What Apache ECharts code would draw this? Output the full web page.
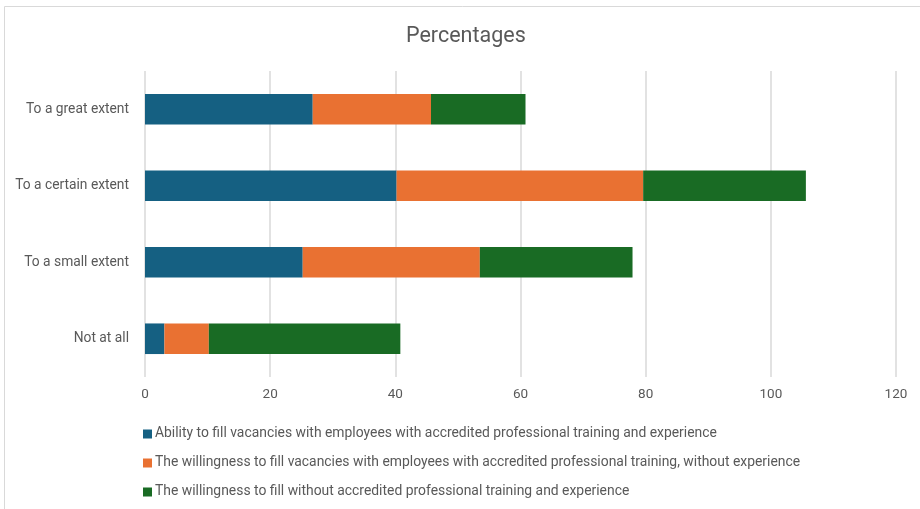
<!DOCTYPE html>
<html>
<head>
<meta charset="utf-8">
<script src="https://cdn.jsdelivr.net/npm/echarts@6/dist/echarts.min.js"></script>
<style>
  html, body { margin: 0; padding: 0; background: #ffffff; }
  #chart { width: 920px; height: 509px; }
</style>
</head>
<body>
<div id="chart"></div>
<script>
// Response categories (bottom to top on the y axis)
const categories = ['Not at all', 'To a small extent', 'To a certain extent', 'To a great extent'];

// Series names
const seriesNames = [
  'Ability to fill vacancies with employees with accredited professional training and experience',
  'The willingness to fill vacancies with employees with accredited professional training, without experience',
  'The willingness to fill without accredited professional training and experience'
];

// Percentages per category, same order as categories
const abilityAccredited = [3.1, 25.2, 40.2, 26.8];
const willingAccreditedNoExp = [7.1, 28.3, 39.4, 18.9];
const willingNoAccreditation = [30.6, 24.4, 26.0, 15.1];

// Value axis ticks
const xTicks = [0, 20, 40, 60, 80, 100, 120];

const colors = ['#156082', '#E97132', '#196B24'];
const fontFamily = 'Roboto, "Noto Sans", sans-serif';
const textColor = '#595959';

const chart = echarts.init(document.getElementById('chart'), null, { renderer: 'canvas' });

const seriesData = [abilityAccredited, willingAccreditedNoExp, willingNoAccreditation];

chart.setOption({
  animation: false,
  color: colors,
  textStyle: { fontFamily: fontFamily },
  graphic: [{
    type: 'rect',
    shape: { x: 4.5, y: 6.5, width: 930, height: 520 },
    style: { fill: 'none', stroke: '#d9d9d9', lineWidth: 1 },
    silent: true,
    z: -1
  }],
  title: {
    text: 'Percentages',
    left: 401,
    top: 21,
    textStyle: { fontFamily: fontFamily, fontSize: 21.5, fontWeight: 'normal', color: textColor }
  },
  legend: {
    orient: 'vertical',
    left: 138,
    top: 422,
    itemWidth: 9,
    itemHeight: 9,
    itemGap: 15,
    icon: 'rect',
    data: seriesNames,
    textStyle: { fontFamily: fontFamily, fontSize: 13.9, color: textColor, padding: [0, 0, 0, -2] }
  },
  grid: { left: 145, right: 24, top: 71, bottom: 132, containLabel: false },
  xAxis: {
    type: 'value',
    min: xTicks[0],
    max: xTicks[xTicks.length - 1],
    interval: xTicks[1] - xTicks[0],
    axisLine: { show: false },
    axisTick: { show: false },
    axisLabel: { color: textColor, fontSize: 13.5, fontFamily: fontFamily, margin: 11 },
    splitLine: { show: true, lineStyle: { color: '#d9d9d9', width: 1.5 } }
  },
  yAxis: {
    type: 'category',
    data: categories,
    axisLine: { show: false },
    axisTick: { show: false },
    axisLabel: { color: textColor, fontSize: 13.8, fontFamily: fontFamily, margin: 16 }
  },
  series: seriesNames.map((name, i) => ({
    name: name,
    type: 'bar',
    stack: 'total',
    barWidth: '40%',
    data: seriesData[i],
    itemStyle: { color: colors[i] }
  }))
});
</script>
</body>
</html>
